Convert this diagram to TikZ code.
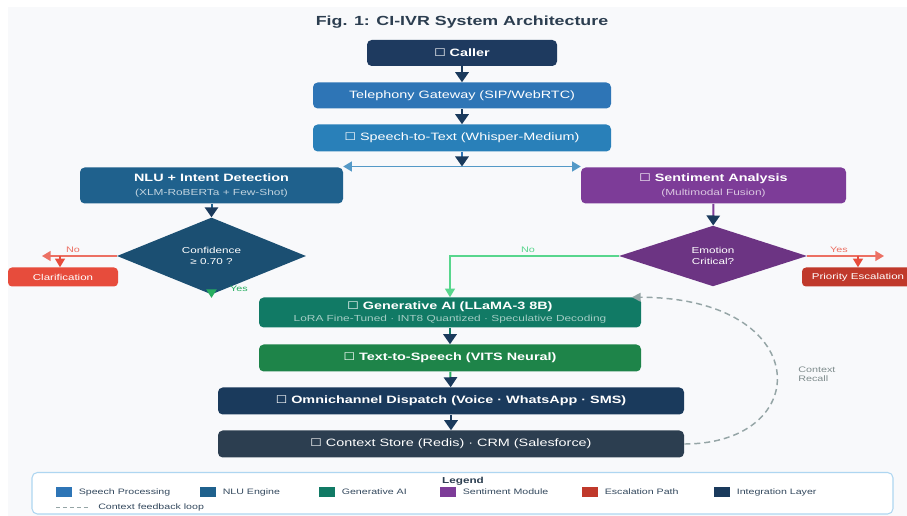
\documentclass[tikz,border=0pt]{standalone}
\usepackage{fontspec}
\setmainfont{Liberation Sans}[FakeStretch=1.35]
\newfontfamily\symfont{DejaVu Sans}[FakeStretch=1.2]
\usetikzlibrary{arrows.meta,shapes.geometric,positioning}

\definecolor{bgpanel}{HTML}{F8F9FB}
\definecolor{titlec}{HTML}{2C3E50}
\definecolor{callerc}{HTML}{1E3A5F}
\definecolor{telc}{HTML}{2E75B6}
\definecolor{speech}{HTML}{2980B9}
\definecolor{nlu}{HTML}{1F618D}
\definecolor{confc}{HTML}{1B4F72}
\definecolor{sent}{HTML}{7D3C98}
\definecolor{emoc}{HTML}{6C3483}
\definecolor{clarc}{HTML}{E74C3C}
\definecolor{esc}{HTML}{C0392B}
\definecolor{gen}{HTML}{117A65}
\definecolor{ttsc}{HTML}{1E8449}
\definecolor{integ}{HTML}{1A3A5C}
\definecolor{ctxc}{HTML}{2C3E50}
\definecolor{branchc}{HTML}{5499C7}
\definecolor{yesg}{HTML}{27AE60}
\definecolor{nog}{HTML}{58D68D}
\definecolor{redl}{HTML}{EC7063}
\definecolor{loopc}{HTML}{95A5A6}
\definecolor{legline}{HTML}{AED6F1}
\definecolor{legtext}{HTML}{34495E}

\newcommand{\tofu}{{\symfont ☐}}

\begin{document}
\begin{tikzpicture}[x=0.75pt, y=-0.75pt,
    wh/.style 2 args={minimum width=#1*0.75pt, minimum height=#2*0.75pt},
    blk/.style={rounded corners=3.5pt, inner sep=0pt, text=white, align=center,
                font=\fontsize{8}{10}\selectfont},
    dmd/.style={diamond, inner sep=0pt, text=white, align=center,
                font=\fontsize{6.5}{8.5}\selectfont},
    flow/.style={line width=1.5pt, draw=#1,
                 -{Triangle[width=10pt,length=7.5pt,color=integ]}},
    flow/.default=integ,
    branch/.style={line width=1.1pt, draw=#1, -{Triangle[width=7.5pt,length=6.5pt]}},
    lbl/.style={font=\fontsize{6}{7}\selectfont, inner sep=0pt},
    legitem/.style={font=\fontsize{5.9}{7}\selectfont, text=legtext, inner sep=0pt}
  ]
  % canvas
  \useasboundingbox (0,0) rectangle (907,516);
  \fill[white] (0,0) rectangle (907,516);
  \fill[bgpanel] (8,7) rectangle (907,516);

  % title
  \node[font=\bfseries\fontsize{9.9}{12}\selectfont, text=titlec] (title) at (462,22)
    {Fig. 1: CI-IVR System Architecture};

  % main column
  \node[blk, fill=callerc, wh={190}{26}, font=\bfseries\fontsize{8}{10}\selectfont]
    (caller) at (462,53) {\tofu\ Caller};
  \node[blk, fill=telc, wh={298}{26}] (tel) at (462,95.5) {Telephony Gateway (SIP/WebRTC)};
  \node[blk, fill=speech, wh={298}{27}] (stt) at (462,138)
    {\tofu\ Speech-to-Text (Whisper-Medium)};

  % nlu branch
  \node[blk, fill=nlu, wh={263}{36}] (nlu) at (211.5,185.5)
    {\textbf{NLU + Intent Detection}\\
     {\fontsize{6.6}{8}\selectfont\color{white!72!nlu}(XLM-RoBERTa + Few-Shot)}};
  \node[dmd, fill=confc, wh={189}{43}] (conf) at (211.5,256)
    {Confidence\\≥ 0.70 ?};
  \node[blk, fill=clarc, wh={110}{19}, font=\fontsize{6.4}{8}\selectfont,
        rounded corners=3pt] (clar) at (63,277) {Clarification};

  % sentiment branch
  \node[blk, fill=sent, wh={265}{36}] (sent) at (713.5,185.5)
    {\textbf{\tofu\ Sentiment Analysis}\\
     {\fontsize{6.6}{8}\selectfont\color{white!72!sent}(Multimodal Fusion)}};
  \node[dmd, fill=emoc, wh={188}{43}] (emo) at (713,256) {Emotion\\Critical?};
  \node[blk, fill=esc, wh={112}{19}, font=\fontsize{6.4}{8}\selectfont,
        rounded corners=3pt] (prio) at (858,277) {Priority Escalation};

  % response chain
  \node[blk, fill=gen, wh={382}{30}] (gen) at (450,312.5)
    {\textbf{\tofu\ Generative AI (LLaMA-3 8B)}\\[-0.5pt]
     {\fontsize{6.6}{8}\selectfont\color{white!62!gen}LoRA Fine-Tuned · INT8 Quantized · Speculative Decoding}};
  \node[blk, fill=ttsc, wh={382}{27}, font=\bfseries\fontsize{8}{10}\selectfont]
    (tts) at (450,358) {\tofu\ Text-to-Speech (VITS Neural)};
  \node[blk, fill=integ, wh={466}{27}, font=\bfseries\fontsize{8}{10}\selectfont]
    (omni) at (451,401) {\tofu\ Omnichannel Dispatch (Voice · WhatsApp · SMS)};
  \node[blk, fill=ctxc, wh={466}{27}] (ctx) at (451,444)
    {\tofu\ Context Store (Redis) · CRM (Salesforce)};

  % connectors
  \draw[flow] (caller) -- (tel);
  \draw[flow] (tel) -- (stt);
  \coordinate (split) at (462,166.5);
  \draw[branch=branchc] (split) -- (split -| nlu.east);
  \draw[branch=branchc] (split) -- (split -| sent.west);
  \draw[flow=telc] (stt) -- (split);
  \draw[flow=nlu] (nlu) -- (conf);
  \draw[flow=sent] (sent) -- (emo);

  % confidence outcomes
  \coordinate (noleft) at (42,256);
  \coordinate (clarin) at (60,256);
  \coordinate (yesdown) at (211.5,298);
  \draw[branch=redl] (conf.west) -- (noleft);
  \draw[branch=clarc] (clarin) -- (clarin |- clar.north);
  \draw[branch=yesg, line width=1.5pt] (conf.south) -- (yesdown);
  \node[lbl, text=redl] at (73,249.5) {No};
  \node[lbl, text=yesg] at (239,288.5) {Yes};

  % emotion outcomes
  \coordinate (yesright) at (884,256);
  \coordinate (prioin) at (858,256);
  \draw[branch=redl] (emo.east) -- (yesright);
  \draw[branch=clarc] (prioin) -- (prioin |- prio.north);
  \draw[branch=nog] (emo.west) -| (gen.north);
  \node[lbl, text=redl] at (839,249.5) {Yes};
  \node[lbl, text=nog] at (528,249.5) {No};

  \draw[flow=gen] (gen) -- (tts);
  \draw[flow=yesg] (tts) -- (omni);
  \draw[flow] (omni) -- (ctx);

  % context feedback loop
  \draw[loopc, line width=1.1pt, dash pattern=on 4.5pt off 3pt,
        -{Triangle[width=6.5pt,length=6.5pt]}]
    (ctx.east) .. controls (815,444) and (815,297.5) .. ([xshift=-7pt]gen.north east);
  \node[lbl, text=loopc!85!black, align=left, anchor=west] (recall) at (798,374)
    {Context\\Recall};

  % legend
  \draw[legline, fill=white, line width=0.8pt, rounded corners=4pt]
    (32,472.5) rectangle (893,514);
  \node[font=\bfseries\fontsize{6.5}{8}\selectfont, text=titlec] (legend) at (463,481.5) {Legend};
  \foreach \lx/\lc/\lt in {56/telc/Speech Processing, 200/nlu/NLU Engine,
      319/gen/Generative AI, 440/sent/Sentiment Module,
      582/esc/Escalation Path, 714/integ/Integration Layer} {
    \node[fill=\lc, wh={16}{10}, inner sep=0pt, anchor=west] (sw-\lc) at (\lx,492) {};
    \node[legitem, anchor=west, right=4.5pt of sw-\lc] {\lt};
  }
  \draw[loopc, line width=0.9pt, dash pattern=on 3pt off 2.2pt] (56,507.5) -- (90,507.5);
  \node[legitem, anchor=west] (loopkey) at (98,507.5) {Context feedback loop};
\end{tikzpicture}
\end{document}
